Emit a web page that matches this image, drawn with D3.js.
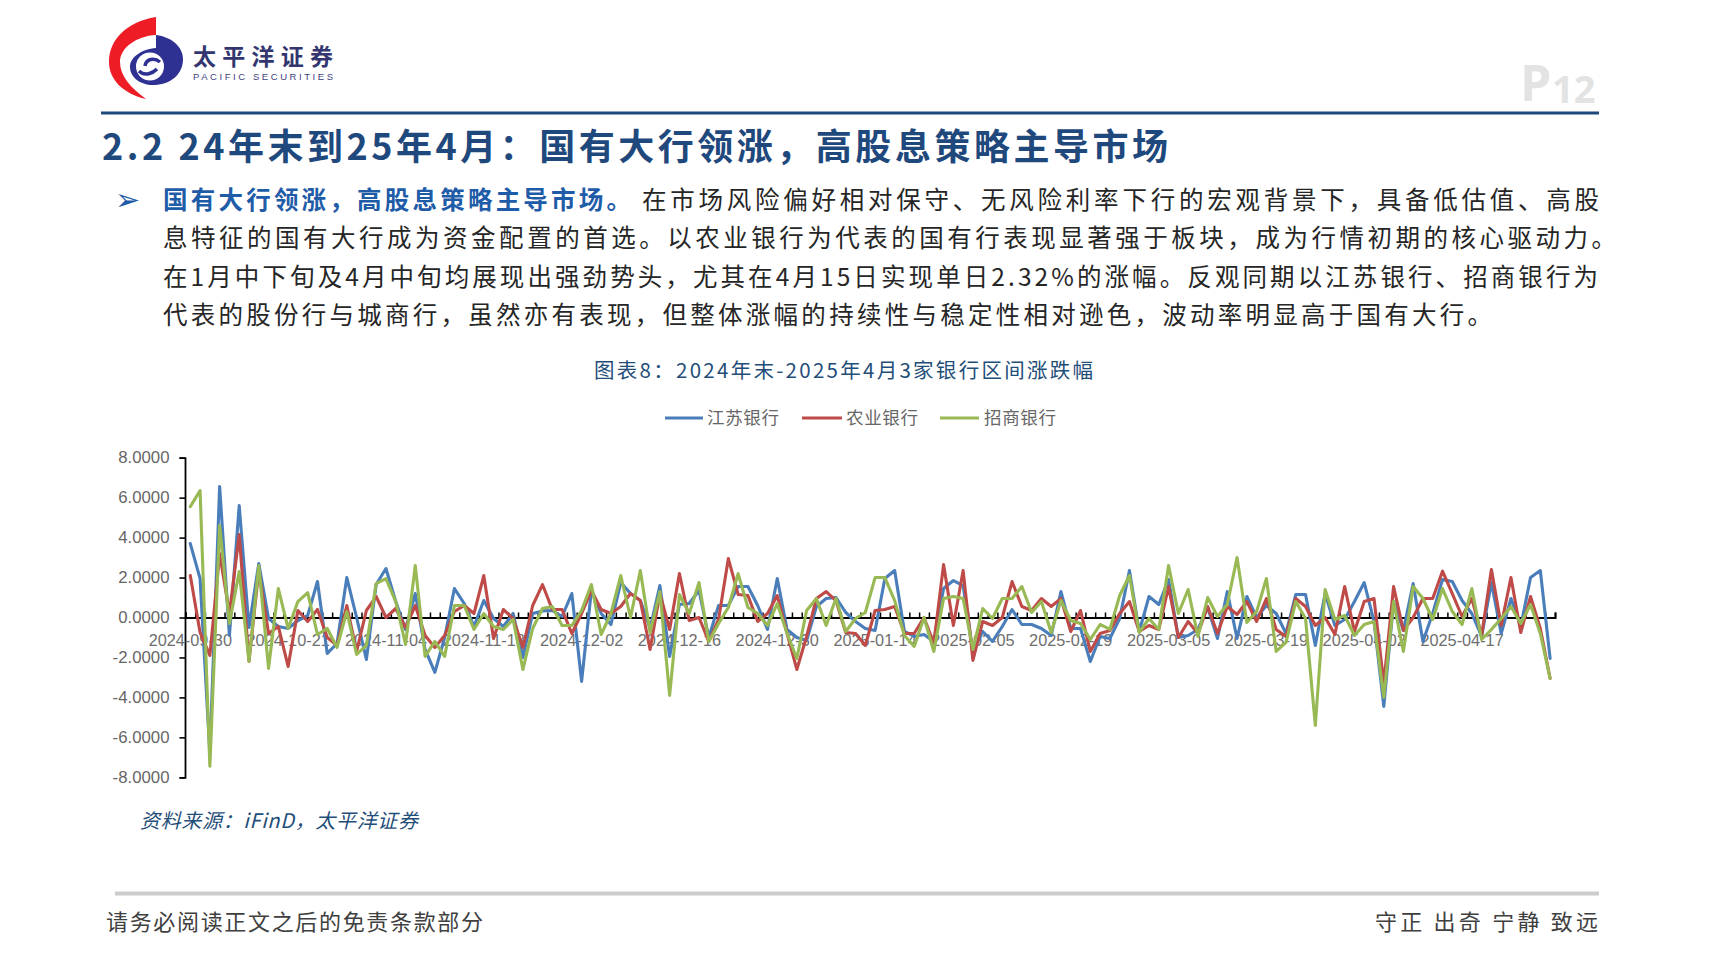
<!DOCTYPE html>
<html><head><meta charset="utf-8">
<script src="https://cdn.jsdelivr.net/npm/d3@7"></script>
<style>html,body{margin:0;padding:0;background:#fff;overflow:hidden}svg{display:block}</style></head>
<body><svg id="c" width="1714" height="965"></svg>
<script>
const dates = ["2024-09-30","2024-10-08","2024-10-09","2024-10-10","2024-10-11","2024-10-14","2024-10-15","2024-10-16","2024-10-17","2024-10-18",
"2024-10-21","2024-10-22","2024-10-23","2024-10-24","2024-10-25","2024-10-28","2024-10-29","2024-10-30","2024-10-31","2024-11-01",
"2024-11-04","2024-11-05","2024-11-06","2024-11-07","2024-11-08","2024-11-11","2024-11-12","2024-11-13","2024-11-14","2024-11-15",
"2024-11-18","2024-11-19","2024-11-20","2024-11-21","2024-11-22","2024-11-25","2024-11-26","2024-11-27","2024-11-28","2024-11-29",
"2024-12-02","2024-12-03","2024-12-04","2024-12-05","2024-12-06","2024-12-09","2024-12-10","2024-12-11","2024-12-12","2024-12-13",
"2024-12-16","2024-12-17","2024-12-18","2024-12-19","2024-12-20","2024-12-23","2024-12-24","2024-12-25","2024-12-26","2024-12-27",
"2024-12-30","2024-12-31","2025-01-02","2025-01-03","2025-01-06","2025-01-07","2025-01-08","2025-01-09","2025-01-10","2025-01-13",
"2025-01-14","2025-01-15","2025-01-16","2025-01-17","2025-01-20","2025-01-21","2025-01-22","2025-01-23","2025-01-24","2025-01-27",
"2025-02-05","2025-02-06","2025-02-07","2025-02-10","2025-02-11","2025-02-12","2025-02-13","2025-02-14","2025-02-17","2025-02-18",
"2025-02-19","2025-02-20","2025-02-21","2025-02-24","2025-02-25","2025-02-26","2025-02-27","2025-02-28","2025-03-03","2025-03-04",
"2025-03-05","2025-03-06","2025-03-07","2025-03-10","2025-03-11","2025-03-12","2025-03-13","2025-03-14","2025-03-17","2025-03-18",
"2025-03-19","2025-03-20","2025-03-21","2025-03-24","2025-03-25","2025-03-26","2025-03-27","2025-03-28","2025-03-31","2025-04-01",
"2025-04-02","2025-04-03","2025-04-07","2025-04-08","2025-04-09","2025-04-10","2025-04-11","2025-04-14","2025-04-15","2025-04-16",
"2025-04-17","2025-04-18","2025-04-21","2025-04-22","2025-04-23","2025-04-24","2025-04-25","2025-04-28","2025-04-29","2025-04-30"];
const jiangsu = [3.7,1.95,-6.8,6.55,-0.9,5.6,-0.5,2.7,-0.05,-0.45,
-0.55,-0.15,0.1,1.8,-1.8,-1.3,2.0,0.0,-2.1,1.65,
2.45,0.8,-0.6,1.2,-1.6,-2.75,-1.0,1.45,0.7,-0.45,
0.85,-0.05,-0.45,0.2,-2.0,0.2,0.33,0.35,0.05,1.2,
-3.2,1.35,0.2,-0.35,1.75,1.2,0.85,-0.55,1.6,-1.95,
0.65,0.7,1.35,-1.0,0.6,0.6,1.55,1.55,0.6,-0.6,
1.95,-0.6,-1.0,-1.15,0.55,0.95,1.0,0.25,-0.2,-0.55,
-0.65,1.95,2.35,-0.7,-0.95,-0.85,-1.2,1.45,1.85,1.6,
-1.7,-0.7,-1.2,-0.45,0.4,-0.35,-0.35,-0.55,-0.9,1.3,
-0.55,-0.55,-2.2,-0.95,-1.05,-0.05,2.35,-0.7,1.05,0.65,
1.9,-1.0,-0.9,-0.6,0.5,-1.05,1.3,-1.05,1.05,0.0,
0.6,0.2,-0.8,1.15,1.15,-1.4,1.2,-0.4,-0.1,0.8,
1.75,-0.2,-4.45,0.8,-0.65,1.7,-1.2,0.2,1.9,1.8,
0.85,0.2,-0.95,1.75,-0.8,0.95,-0.45,2.0,2.35,-2.05];
const abc = [2.1,-0.75,-1.9,3.2,0.2,4.15,-2.2,2.35,-0.8,-0.45,
-2.45,0.35,-0.2,0.4,-1.0,-1.4,0.6,-1.7,0.35,1.05,
0.0,0.45,-0.5,0.6,-0.9,-1.5,-0.9,0.3,0.6,0.2,
2.1,-1.05,0.4,-0.05,-1.5,0.6,1.65,0.4,0.4,-0.8,
0.2,1.35,0.4,0.2,0.55,1.2,0.85,-1.6,1.2,-0.6,
2.2,-0.15,0.0,-1.2,-0.1,2.95,1.15,1.1,-0.2,0.2,
1.1,-0.8,-2.6,-0.95,0.95,1.3,0.85,-0.75,-0.8,-1.4,
0.35,0.4,0.55,-0.8,-0.8,0.0,-1.3,2.65,-0.4,2.35,
-2.15,-0.2,-0.4,0.0,1.8,0.55,0.35,0.95,0.55,0.95,
-0.7,0.35,-1.7,-0.8,-0.65,0.2,0.8,-0.7,-0.4,-0.6,
1.55,-1.0,-0.2,-0.8,0.55,-0.8,0.55,0.15,0.8,-0.2,
0.95,-0.6,-0.95,0.95,0.55,-0.4,0.0,-0.85,1.55,-0.7,
0.8,0.95,-3.3,1.55,-0.65,0.0,0.95,0.95,2.32,1.2,
0.05,0.95,-0.9,2.4,-0.4,2.0,-0.75,1.05,-0.55,-3.05];
const cmb = [5.55,6.35,-7.45,4.6,-0.3,2.3,-2.2,2.6,-2.55,1.45,
-0.55,0.8,1.25,-0.85,-0.55,-1.5,0.3,-1.85,-1.4,1.7,
1.95,0.8,-1.35,2.6,-1.95,-1.2,-1.95,0.6,0.6,-0.6,
0.2,-0.45,-0.6,-0.1,-2.6,-0.55,0.45,0.55,-0.4,-0.4,
0.35,1.65,-0.85,0.2,2.1,0.0,2.35,-0.75,1.3,-3.9,
1.15,0.2,1.75,-1.2,-0.3,0.5,2.2,0.5,0.2,-0.4,
0.7,-0.8,-2.05,0.35,0.95,-0.4,0.95,-0.7,-0.05,0.25,
2.0,2.0,0.85,-0.9,-1.45,0.0,-1.7,0.95,1.05,0.95,
-1.6,0.45,-0.05,0.95,0.95,1.55,0.25,0.8,-0.75,0.85,
-0.15,-0.3,-1.1,-0.35,-0.6,1.1,2.1,-0.75,-0.05,-0.6,
2.6,0.2,1.4,-0.95,1.0,0.05,0.65,3.0,-0.25,0.3,
1.95,-1.7,-1.25,0.8,-0.05,-5.4,1.4,-0.1,0.1,-0.9,
-0.35,-0.2,-4.0,0.8,-1.7,1.55,0.95,-0.1,1.45,0.3,
-0.35,1.45,-1.1,-0.6,-0.05,0.55,-0.3,0.65,-0.8,-3.05];
const seriesNames = ["江苏银行","农业银行","招商银行"];
const seriesValues = [jiangsu, abc, cmb];
const seriesColors = ["#4a7ebb","#be4b48","#98b954"];
const yTicks = [8,6,4,2,0,-2,-4,-6,-8];

const CJK = '"Noto Sans CJK SC"';
const svg = d3.select("#c");
function txt(s,x,y,o={}){
  const t = svg.append("text").attr("x",x).attr("y",y).text(s)
    .attr("font-family",o.font||CJK).attr("font-size",o.size||24)
    .attr("fill",o.fill||"#262626").attr("font-weight",o.weight||400)
    .attr("font-style",o.style||null).attr("text-anchor",o.anchor||"start")
    .attr("dominant-baseline","central");
  if(o.len) t.attr("textLength",o.len).attr("lengthAdjust","spacing");
  return t;
}
// logo
svg.append("path").attr("fill","#ee1c25")
  .attr("d","M156,17 C126,22 109,40 109,62 C109,80 124,94 146,99 C131,88 120,76 120,62 C120,48 136,36 156,35 Z");
svg.append("path").attr("fill","#2e3192")
  .attr("d","M156,35 C172,37 183,47 183,59 C183,75 170,85 153,85 C140,85 130,77 130,67 C130,57 142,49 156,48 Z");
svg.append("circle").attr("cx",150).attr("cy",66.5).attr("r",14).attr("fill","#fff");
svg.append("path").attr("fill","none").attr("stroke","#2e3192").attr("stroke-width",3.5)
  .attr("d","M139,71 C145,77 153,73 157,69 M160,62 C154,57 146,59 145,66");
txt("太平洋证券",193,54.5,{size:23,weight:700,fill:"#33366f",len:140});
txt("PACIFIC SECURITIES",193,76.5,{font:"Liberation Sans",size:9.5,fill:"#3d4080",len:140});
txt("P",1520,82,{font:"Open Sans",size:50,weight:700,fill:"#e3e3e3"});
txt("12",1552,88,{font:"Open Sans",size:38,weight:700,fill:"#e3e3e3"});
// header
svg.append("rect").attr("x",101).attr("y",111.5).attr("width",1498).attr("height",3).attr("fill","#1f497d");
txt("2.2 24年末到25年4月：国有大行领涨，高股息策略主导市场",102,143.5,{size:36,weight:700,fill:"#1f497d",len:1066});
// bullet
txt("➢",115,199,{font:"DejaVu Sans",size:30,fill:"#1f5ca8"});
// body
txt("国有大行领涨，高股息策略主导市场。",163,198,{size:24.5,weight:700,fill:"#1f5ca8",len:468});
txt("在市场风险偏好相对保守、无风险利率下行的宏观背景下，具备低估值、高股",642,198,{size:24.5,len:957});
txt("息特征的国有大行成为资金配置的首选。以农业银行为代表的国有行表现显著强于板块，成为行情初期的核心驱动力。",163,236.5,{size:24.5,len:1453});
txt("在1月中下旬及4月中旬均展现出强劲势头，尤其在4月15日实现单日2.32%的涨幅。反观同期以江苏银行、招商银行为",163,275,{size:24.5,len:1435});
txt("代表的股份行与城商行，虽然亦有表现，但整体涨幅的持续性与稳定性相对逊色，波动率明显高于国有大行。",163,313,{size:24.5,len:1329});
// chart title
txt("图表8：2024年末-2025年4月3家银行区间涨跌幅",594,368.5,{size:20.5,fill:"#1f4e79",len:499});

// scales
const x = d3.scaleBand().domain(dates).range([185.4,1555]);
const y = d3.scaleLinear().domain([-8,8]).range([777.3,457.7]);
const font = "Liberation Sans";
// y axis
const ya = svg.append("g").attr("transform","translate(185,0)")
  .call(d3.axisLeft(y).tickValues(yTicks).tickSize(5.5).tickPadding(10).tickFormat(d=>d.toFixed(4)));
ya.select(".domain").attr("stroke","#000").attr("stroke-width",1.8);
ya.selectAll("line").attr("stroke","#000").attr("stroke-width",1.6);
ya.selectAll("text").attr("font-family",font).attr("font-size",16.8).attr("fill","#666").attr("dy","0.28em");
// x axis (ticks on category edges, above the axis)
const edge = d3.scaleLinear().domain([0,dates.length]).range(x.range());
const xt = svg.append("g").attr("transform",`translate(0,${y(0)})`)
  .call(d3.axisTop(edge).tickValues(d3.range(dates.length+1)).tickSize(5).tickFormat(""));
xt.select(".domain").attr("stroke","#000").attr("stroke-width",2);
xt.selectAll("line").attr("stroke","#000").attr("stroke-width",1.5);
// x labels
const xl = svg.append("g").attr("transform",`translate(0,${y(0)})`)
  .call(d3.axisBottom(x).tickValues(dates.filter((d,i)=>i%10===0)).tickSize(0).tickPadding(17));
xl.select(".domain").remove();
xl.selectAll("text").attr("font-family",font).attr("font-size",16.3).attr("fill","#6e6e6e");
// lines
const line = d3.line().x((d,i)=>x(dates[i])+x.bandwidth()/2).y(d=>y(d)).curve(d3.curveLinear);
svg.append("g").selectAll("path").data(seriesValues).join("path")
  .attr("d",line).attr("fill","none").attr("stroke",(d,i)=>seriesColors[i])
  .attr("stroke-width",3.1).attr("stroke-linejoin","round").attr("stroke-linecap","round");
// legend
const legX = [[665,703,707],[802,842,846],[940,979,984]];
seriesNames.forEach((n,i)=>{
  svg.append("line").attr("x1",legX[i][0]).attr("x2",legX[i][1]).attr("y1",418).attr("y2",418)
    .attr("stroke",seriesColors[i]).attr("stroke-width",3.1);
  txt(n,legX[i][2],416.5,{size:17.5,fill:"#666",len:72});
});
// source + footer
txt("资料来源：iFinD，太平洋证券",140,819.5,{size:20,style:"italic",fill:"#1f4e79",len:278});
svg.append("rect").attr("x",115).attr("y",891.5).attr("width",1484).attr("height",4).attr("fill","#cccccc");
txt("请务必阅读正文之后的免责条款部分",106,920,{size:22,fill:"#404040",len:377});
txt("守正 出奇 宁静 致远",1375,920,{size:22,fill:"#404040",len:223});
</script></body></html>
